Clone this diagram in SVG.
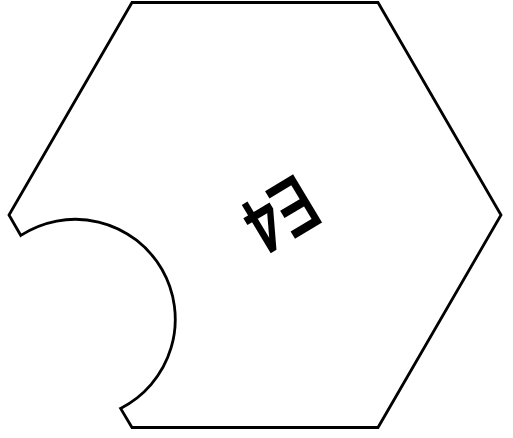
<svg xmlns="http://www.w3.org/2000/svg" width="513" height="438" viewBox="0 0 513 438">
<style>
.shape{fill:#fff;stroke:#000;stroke-width:2.8;stroke-linejoin:miter}
.lbl{font-family:"Liberation Sans",Arial,sans-serif;font-weight:normal;font-size:78px;fill:#000;stroke:#000;stroke-width:2.6px;stroke-linejoin:miter}
</style>
<rect width="513" height="438" fill="#fff"/>
<g id="piece-E4">
<path class="shape" d="M132,2.5 L378,2.5 L501,215 L378,427.5 L132,427.5 L120.6,408.4 A100,100 0 1 0 20.8,235.4 L9,215 Z"/>
<text class="lbl" transform="translate(281.5,215.5) rotate(149) scale(0.73,1)" text-anchor="middle" y="28">E4</text>
</g>
<g id="connectors"/>
</svg>
